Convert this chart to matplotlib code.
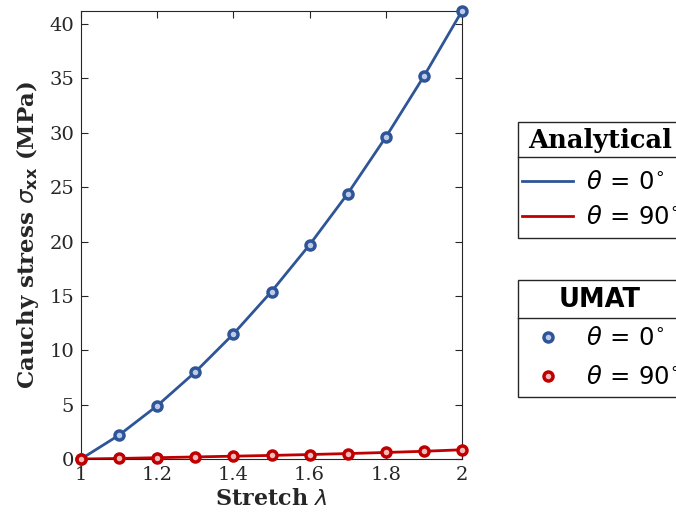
import numpy as np
import matplotlib
matplotlib.use("Agg")
import matplotlib.pyplot as plt
from matplotlib.lines import Line2D
from matplotlib.patches import Rectangle

# stretch values and Cauchy stress (MPa) for the two fibre angles
stretch = [1.0, 1.1, 1.2, 1.3, 1.4, 1.5, 1.6, 1.7, 1.8, 1.9, 2.0]
sigma_0 = [0.0, 2.2, 4.9, 8.0, 11.5, 15.4, 19.7, 24.4, 29.6, 35.2, 41.2]
sigma_90 = [0.0, 0.05, 0.12, 0.19, 0.26, 0.33, 0.41, 0.5, 0.6, 0.71, 0.85]

xticks = [1, 1.2, 1.4, 1.6, 1.8, 2]
xticklabels = ["1", "1.2", "1.4", "1.6", "1.8", "2"]
yticks = [0, 5, 10, 15, 20, 25, 30, 35, 40]

BLUE = "#2e5597"
RED = "#c00000"
BLUE_FACE = "#bccbea"
RED_FACE = "#f2bcbc"
INK = "#262626"
MS, MEW = 6.5, 2.5

W, H = 676, 519
fig = plt.figure(figsize=(W / 100, H / 100), dpi=100)
ax = fig.add_axes([81 / W, 1 - 459 / H, (462 - 81) / W, (459 - 11) / H])

# analytical curves
ax.plot(stretch, sigma_0, color=BLUE, lw=2, zorder=2)
ax.plot(stretch, sigma_90, color=RED, lw=2, zorder=2)
# UMAT results
ax.plot(stretch, sigma_0, ls="none", marker="o", ms=MS, mew=MEW,
        mec=BLUE, mfc=BLUE_FACE, zorder=3, clip_on=False)
ax.plot(stretch, sigma_90, ls="none", marker="o", ms=MS, mew=MEW,
        mec=RED, mfc=RED_FACE, zorder=3, clip_on=False)

ax.set_xlim(1, 2)
ax.set_ylim(0, 41.2)
ax.set_xticks(xticks)
ax.set_xticklabels(xticklabels)
ax.set_yticks(yticks)
ax.tick_params(direction="in", length=5, width=0.8, colors=INK,
               labelsize=14, top=True, right=True, pad=5)
for lab in ax.get_xticklabels() + ax.get_yticklabels():
    lab.set_family("DejaVu Serif")
for s in ax.spines.values():
    s.set_color(INK)
    s.set_linewidth(0.8)

ax.set_xlabel("Stretch $\\lambda$", family="DejaVu Serif", weight="bold",
              fontsize=16, color=INK, labelpad=3)
ax.set_ylabel("Cauchy stress $\\sigma_{\\mathbf{xx}}$ (MPa)",
              family="DejaVu Serif", weight="bold", fontsize=16.5, color=INK,
              labelpad=6)


def px(x, y):
    return x / W, 1 - y / H


def legend_box(top, sep, bottom, title, title_family, entries):
    x0, y0 = px(518, bottom)
    x1, y1 = px(700, top)
    fig.add_artist(Rectangle((x0, y0), x1 - x0, y1 - y0, transform=fig.transFigure,
                             fill=True, fc="white", ec=INK, lw=1.0))
    xs, ys = px(518, sep)
    fig.add_artist(Line2D([xs, 1.05], [ys, ys], transform=fig.transFigure,
                          color=INK, lw=1.0))
    tx, ty = px(600, (top + sep) / 2 + 1)
    fig.text(tx, ty, title, ha="center", va="center", family=title_family,
             weight="bold", fontsize=18.5, color="black")
    for y, kind, color, face, label in entries:
        if kind == "line":
            a, b = px(522, y)
            c, _ = px(573, y)
            fig.add_artist(Line2D([a, c], [b, b], transform=fig.transFigure,
                                  color=color, lw=2))
        else:
            a, b = px(548, y)
            fig.add_artist(Line2D([a], [b], transform=fig.transFigure, ls="none",
                                  marker="o", ms=MS, mew=MEW, mec=color, mfc=face))
        lx, ly = px(586, y + 1)
        fig.text(lx, ly, label, ha="left", va="center", fontsize=17.5, color="black")


legend_box(122, 157, 238, "Analytical", "DejaVu Serif",
           [(181, "line", BLUE, None, r"$\theta\,=\,0^{\circ}$"),
            (216, "line", RED, None, r"$\theta\,=\,90^{\circ}$")])
legend_box(280, 318, 397, "UMAT", "DejaVu Sans",
           [(337, "marker", BLUE, BLUE_FACE, r"$\theta\,=\,0^{\circ}$"),
            (376, "marker", RED, RED_FACE, r"$\theta\,=\,90^{\circ}$")])

fig.savefig("out.png", dpi=100)
